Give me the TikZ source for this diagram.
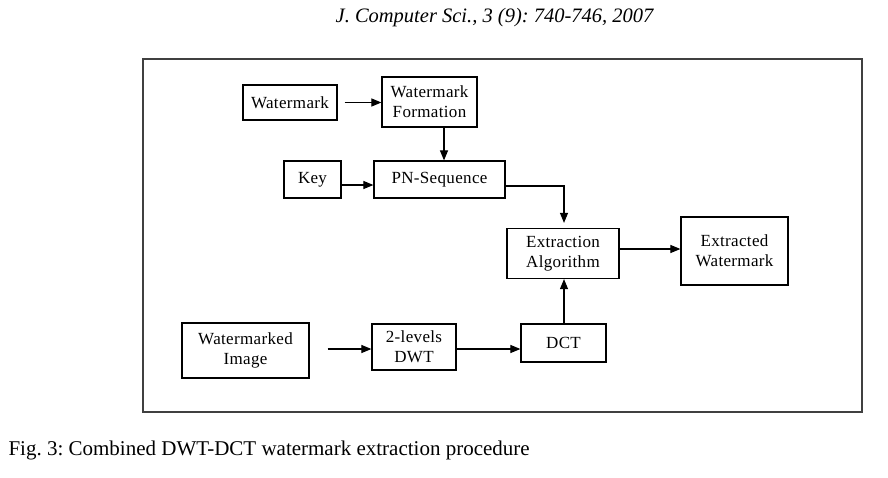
\documentclass[tikz,border=0pt]{standalone}
\usepackage{fontspec}
\setmainfont{Liberation Serif}
\newfontfamily\boxfont[LetterSpace=2]{Liberation Serif}
\usetikzlibrary{arrows.meta}
\frenchspacing
\tikzset{
  blk/.style={draw=black, line width=1.2pt, inner sep=0pt, align=center,
    font=\boxfont\fontsize{17}{20}\selectfont},
  arr/.style={line width=1.1pt, -{Triangle[length=10pt,width=8pt]}},
  con/.style={line width=1.1pt}
}
\begin{document}
\begin{tikzpicture}[x=1pt,y=-1pt]
\useasboundingbox (0,0) rectangle (888,477);
\fill[white] (0,0) rectangle (888,477);
\node[font=\fontsize{20.5}{24}\selectfont\itshape] (hdr) at (494.5,18) {J. Computer Sci., 3 (9): 740-746, 2007};
\draw[draw=black!75, line width=1.6pt] (143,59) rectangle (862,412);
\node[font=\fontsize{21}{25}\selectfont, anchor=west] (cap) at (5,450) {Fig. 3: Combined DWT-DCT watermark extraction procedure};

\node[blk, minimum width=94pt, minimum height=35pt] (wm) at (290,102.5) {Watermark};
\node[blk, minimum width=95pt, minimum height=50pt] (wmf) at (429.5,102) {Watermark\\Formation};
\node[blk, minimum width=57pt, minimum height=37pt] (key) at (312.5,179.5) {Key};
\node[blk, minimum width=131pt, minimum height=37pt] (pn) at (439.5,179.5) {PN-Sequence};
\node[blk, minimum width=112pt, minimum height=50pt] (ext) at (563,253.5) {Extraction\\Algorithm};
\node[blk, minimum width=107pt, minimum height=68pt] (ew) at (734.5,251) {Extracted\\Watermark};
\node[blk, minimum width=127pt, minimum height=55pt] (wi) at (245.5,350.5) {Watermarked\\Image};
\node[blk, minimum width=84pt, minimum height=46pt] (dwt) at (414,347) {2-levels\\DWT};
\node[blk, minimum width=85pt, minimum height=38pt] (dct) at (563.5,343) {DCT};

\draw[arr] ([xshift=7pt]wm.east) -- (wmf.west |- wm.east);
\draw[arr] ([xshift=14.5pt]wmf.south) -- ([xshift=14.5pt]wmf.south |- pn.north);
\draw[arr] ([yshift=-5.5pt]key.east) -- ([yshift=-5.5pt]pn.west);
\draw[arr] ([yshift=-6.5pt]pn.east) -| ([xshift=1pt,yshift=5pt]ext.north);
\draw[arr] ([yshift=2pt]ew.west -| ext.east) -- ([yshift=2pt]ew.west);
\draw[arr] ([xshift=0.5pt]dct.north) -- ([xshift=1pt]ext.south);
\draw[arr] ([xshift=18pt,yshift=1.5pt]wi.east) -- ([yshift=-2pt]dwt.west);
\draw[arr] ([yshift=-2pt]dwt.east) -- ([yshift=-6pt]dct.west);
\end{tikzpicture}
\end{document}
